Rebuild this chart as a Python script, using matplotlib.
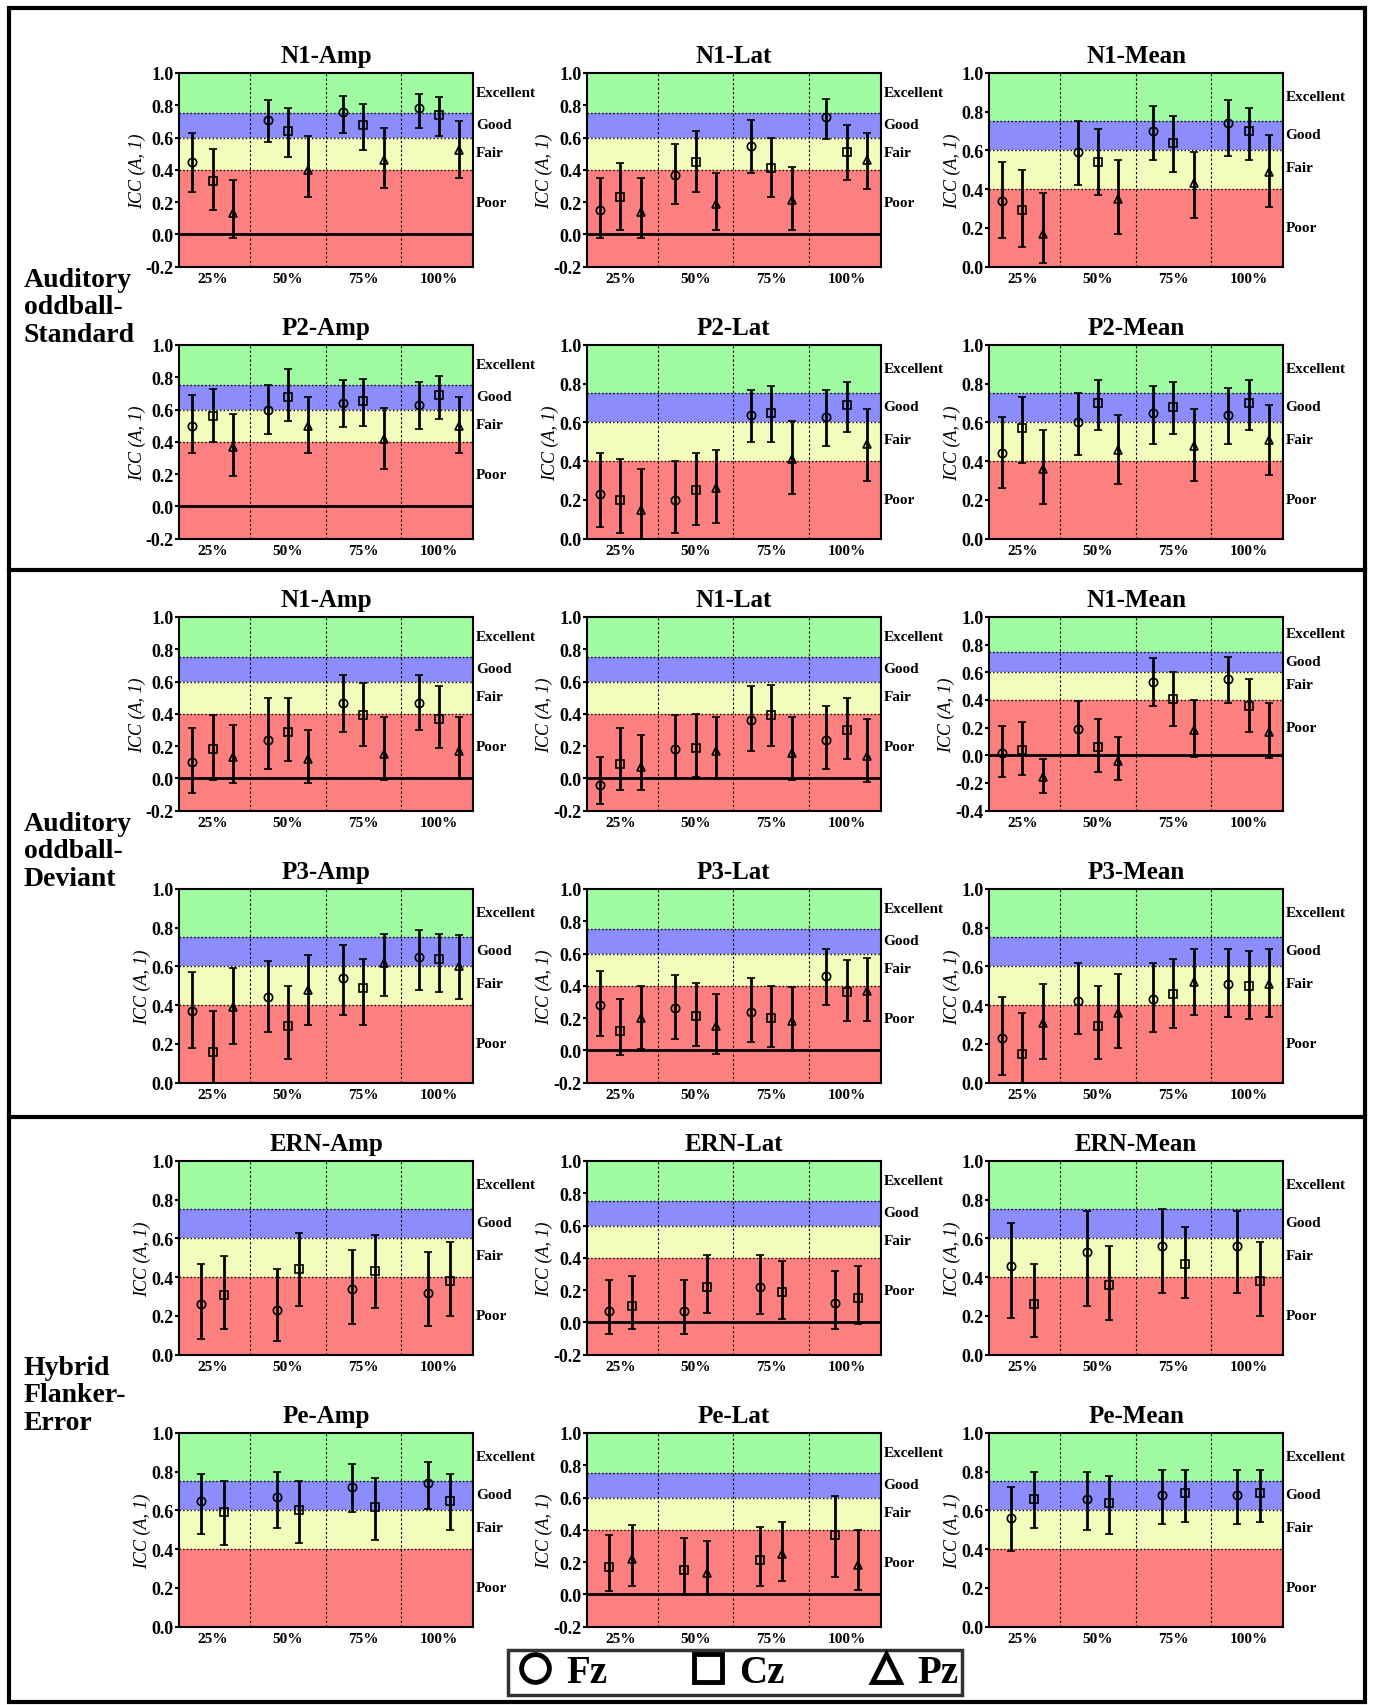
import numpy as np
import matplotlib.pyplot as plt
from matplotlib.patches import Rectangle
from matplotlib.lines import Line2D

plt.rcParams['font.family'] = ['Liberation Serif', 'DejaVu Serif']
plt.rcParams['font.weight'] = 'bold'

groups = ['25%', '50%', '75%', '100%']

# each series: list of (mean, low, high) per group
titles = [['N1-Amp', 'N1-Lat', 'N1-Mean'], ['P2-Amp', 'P2-Lat', 'P2-Mean'],
          ['N1-Amp', 'N1-Lat', 'N1-Mean'], ['P3-Amp', 'P3-Lat', 'P3-Mean'],
          ['ERN-Amp', 'ERN-Lat', 'ERN-Mean'], ['Pe-Amp', 'Pe-Lat', 'Pe-Mean']]
ymins = [[-0.2, -0.2, 0.0], [-0.2, 0.0, 0.0], [-0.2, -0.2, -0.4],
         [0.0, -0.2, 0.0], [0.0, -0.2, 0.0], [0.0, -0.2, 0.0]]
section_labels = ['Auditory\noddball-\nStandard', 'Auditory\noddball-\nDeviant',
                  'Hybrid\nFlanker-\nError']

data = {
    (0, 0): {'Fz': [(0.45, 0.26, 0.63), (0.71, 0.57, 0.83), (0.76, 0.63, 0.86), (0.78, 0.66, 0.87)],
             'Cz': [(0.33, 0.15, 0.53), (0.64, 0.48, 0.78), (0.68, 0.52, 0.81), (0.74, 0.61, 0.85)],
             'Pz': [(0.13, -0.02, 0.34), (0.40, 0.23, 0.61), (0.46, 0.29, 0.66), (0.52, 0.35, 0.70)]},
    (0, 1): {'Fz': [(0.15, -0.02, 0.35), (0.37, 0.19, 0.56), (0.55, 0.38, 0.71), (0.73, 0.59, 0.84)],
             'Cz': [(0.23, 0.03, 0.44), (0.45, 0.26, 0.64), (0.41, 0.23, 0.60), (0.51, 0.34, 0.68)],
             'Pz': [(0.14, -0.02, 0.35), (0.19, 0.03, 0.38), (0.21, 0.03, 0.42), (0.46, 0.28, 0.63)]},
    (0, 2): {'Fz': [(0.34, 0.15, 0.54), (0.59, 0.42, 0.75), (0.70, 0.55, 0.83), (0.74, 0.57, 0.86)],
             'Cz': [(0.29, 0.10, 0.50), (0.54, 0.37, 0.71), (0.64, 0.49, 0.78), (0.70, 0.55, 0.82)],
             'Pz': [(0.17, 0.02, 0.38), (0.35, 0.17, 0.55), (0.43, 0.25, 0.59), (0.49, 0.31, 0.68)]},
    (1, 0): {'Fz': [(0.50, 0.33, 0.69), (0.60, 0.45, 0.75), (0.64, 0.49, 0.78), (0.63, 0.48, 0.77)],
             'Cz': [(0.56, 0.40, 0.73), (0.68, 0.53, 0.85), (0.65, 0.50, 0.79), (0.69, 0.54, 0.81)],
             'Pz': [(0.37, 0.19, 0.57), (0.50, 0.33, 0.68), (0.42, 0.23, 0.61), (0.50, 0.33, 0.68)]},
    (1, 1): {'Fz': [(0.23, 0.06, 0.44), (0.20, 0.03, 0.40), (0.64, 0.50, 0.77), (0.63, 0.48, 0.77)],
             'Cz': [(0.20, 0.03, 0.41), (0.25, 0.07, 0.44), (0.65, 0.50, 0.79), (0.69, 0.55, 0.81)],
             'Pz': [(0.15, 0.0, 0.36), (0.26, 0.08, 0.46), (0.41, 0.23, 0.61), (0.49, 0.30, 0.67)]},
    (1, 2): {'Fz': [(0.44, 0.26, 0.63), (0.60, 0.43, 0.75), (0.65, 0.49, 0.79), (0.64, 0.49, 0.78)],
             'Cz': [(0.57, 0.39, 0.73), (0.70, 0.56, 0.82), (0.68, 0.54, 0.81), (0.70, 0.56, 0.82)],
             'Pz': [(0.36, 0.18, 0.56), (0.46, 0.28, 0.64), (0.48, 0.30, 0.67), (0.51, 0.33, 0.69)]},
    (2, 0): {'Fz': [(0.10, -0.09, 0.31), (0.24, 0.06, 0.50), (0.47, 0.29, 0.64), (0.47, 0.30, 0.64)],
             'Cz': [(0.18, -0.01, 0.39), (0.29, 0.11, 0.50), (0.39, 0.20, 0.59), (0.37, 0.19, 0.57)],
             'Pz': [(0.13, -0.03, 0.33), (0.12, -0.03, 0.30), (0.15, -0.01, 0.38), (0.17, 0.0, 0.38)]},
    (2, 1): {'Fz': [(-0.04, -0.16, 0.13), (0.18, 0.0, 0.39), (0.36, 0.17, 0.57), (0.24, 0.06, 0.45)],
             'Cz': [(0.09, -0.07, 0.31), (0.19, 0.01, 0.40), (0.39, 0.20, 0.58), (0.30, 0.12, 0.50)],
             'Pz': [(0.07, -0.07, 0.27), (0.17, 0.0, 0.38), (0.16, -0.01, 0.38), (0.14, -0.02, 0.37)]},
    (2, 2): {'Fz': [(0.02, -0.16, 0.21), (0.19, 0.0, 0.39), (0.53, 0.36, 0.70), (0.55, 0.38, 0.71)],
             'Cz': [(0.04, -0.14, 0.24), (0.06, -0.12, 0.26), (0.41, 0.21, 0.60), (0.36, 0.17, 0.55)],
             'Pz': [(-0.16, -0.27, -0.03), (-0.04, -0.18, 0.13), (0.18, -0.01, 0.40), (0.17, -0.02, 0.38)]},
    (3, 0): {'Fz': [(0.37, 0.18, 0.57), (0.44, 0.26, 0.63), (0.54, 0.35, 0.71), (0.65, 0.48, 0.79)],
             'Cz': [(0.16, 0.0, 0.37), (0.29, 0.12, 0.50), (0.49, 0.30, 0.64), (0.64, 0.47, 0.77)],
             'Pz': [(0.39, 0.20, 0.59), (0.48, 0.30, 0.66), (0.62, 0.45, 0.77), (0.60, 0.43, 0.76)]},
    (3, 1): {'Fz': [(0.28, 0.09, 0.49), (0.26, 0.07, 0.47), (0.24, 0.05, 0.45), (0.46, 0.28, 0.63)],
             'Cz': [(0.12, -0.03, 0.32), (0.21, 0.03, 0.42), (0.20, 0.02, 0.40), (0.36, 0.18, 0.56)],
             'Pz': [(0.20, 0.01, 0.40), (0.15, -0.02, 0.35), (0.18, 0.0, 0.39), (0.37, 0.18, 0.57)]},
    (3, 2): {'Fz': [(0.23, 0.04, 0.44), (0.42, 0.25, 0.62), (0.43, 0.26, 0.62), (0.51, 0.34, 0.69)],
             'Cz': [(0.15, 0.0, 0.36), (0.29, 0.12, 0.50), (0.46, 0.28, 0.64), (0.50, 0.33, 0.68)],
             'Pz': [(0.31, 0.12, 0.51), (0.36, 0.18, 0.56), (0.52, 0.35, 0.69), (0.51, 0.34, 0.69)]},
    (4, 0): {'Fz': [(0.26, 0.08, 0.47), (0.23, 0.07, 0.44), (0.34, 0.16, 0.54), (0.32, 0.15, 0.53)],
             'Cz': [(0.31, 0.13, 0.51), (0.44, 0.25, 0.63), (0.43, 0.24, 0.62), (0.38, 0.20, 0.58)]},
    (4, 1): {'Fz': [(0.07, -0.07, 0.26), (0.07, -0.07, 0.26), (0.22, 0.05, 0.42), (0.12, -0.04, 0.32)],
             'Cz': [(0.10, -0.04, 0.29), (0.22, 0.06, 0.42), (0.19, 0.02, 0.38), (0.15, -0.01, 0.35)]},
    (4, 2): {'Fz': [(0.46, 0.19, 0.68), (0.53, 0.25, 0.74), (0.56, 0.32, 0.75), (0.56, 0.32, 0.74)],
             'Cz': [(0.26, 0.09, 0.47), (0.36, 0.18, 0.56), (0.47, 0.29, 0.66), (0.38, 0.20, 0.58)]},
    (5, 0): {'Fz': [(0.65, 0.48, 0.79), (0.67, 0.51, 0.80), (0.72, 0.59, 0.84), (0.74, 0.61, 0.85)],
             'Cz': [(0.59, 0.42, 0.75), (0.60, 0.43, 0.75), (0.62, 0.45, 0.77), (0.65, 0.50, 0.79)]},
    (5, 1): {'Cz': [(0.17, 0.02, 0.37), (0.15, 0.0, 0.35), (0.21, 0.05, 0.42), (0.37, 0.11, 0.61)],
             'Pz': [(0.22, 0.05, 0.43), (0.13, 0.0, 0.33), (0.25, 0.08, 0.45), (0.18, 0.03, 0.40)]},
    (5, 2): {'Fz': [(0.56, 0.39, 0.72), (0.66, 0.50, 0.80), (0.68, 0.53, 0.81), (0.68, 0.53, 0.81)],
             'Cz': [(0.66, 0.51, 0.80), (0.64, 0.48, 0.78), (0.69, 0.54, 0.81), (0.69, 0.54, 0.81)]},
}

markers = {'Fz': 'o', 'Cz': 's', 'Pz': '^'}
bands = [(-1, 0.4, '#fc8080'), (0.4, 0.6, '#f4fcbc'), (0.6, 0.75, '#8c8cfc'), (0.75, 1.0, '#a0fca0')]
band_labels = [('Excellent', 0.88), ('Good', 0.68), ('Fair', 0.51), ('Poor', 0.2)]

W, H = 1263.0, 1568.0
fig = plt.figure(figsize=(13.73, 17.06), dpi=100)

col_x = [165, 540, 910]
col_w = 270
row_top = [68, 318, 568, 818, 1068, 1318]
row_h = 178

for r in range(6):
    for c in range(3):
        ax = fig.add_axes([col_x[c] / W, 1 - (row_top[r] + row_h) / H, col_w / W, row_h / H])
        ymin = ymins[r][c]
        ax.set_xlim(-0.44, 3.45)
        ax.set_ylim(ymin, 1.0)
        for lo, hi, col in bands:
            ax.axhspan(max(lo, ymin), hi, color=col, zorder=0, lw=0)
        for y in [0.4, 0.6, 0.75]:
            ax.axhline(y, color='k', ls=':', lw=1, zorder=1)
        for xd in [0.5, 1.5, 2.5]:
            ax.axvline(xd, color='k', ls=(0, (2, 2)), lw=0.8, zorder=1)
        if ymin < 0:
            ax.axhline(0, color='k', lw=2, zorder=2)
        series = data[(r, c)]
        names = list(series.keys())
        if len(names) == 3:
            offs = [-0.27, 0.0, 0.27]
        else:
            offs = [-0.15, 0.15]
        for name, off in zip(names, offs):
            vals = np.array(series[name])
            x = np.arange(4) + off
            ax.errorbar(x, vals[:, 0], yerr=[vals[:, 0] - vals[:, 1], vals[:, 2] - vals[:, 0]],
                        fmt=markers[name], color='k', mfc='none', mec='k', ms=6, mew=1.2,
                        elinewidth=2, capsize=3, capthick=2, zorder=3)
        ax.set_xticks(range(4))
        ax.set_xticklabels(groups, fontsize=11, fontweight='bold')
        ax.tick_params(axis='x', length=0)
        yt = np.round(np.arange(ymin, 1.01, 0.2), 1)
        ax.set_yticks(yt)
        ax.set_yticklabels(['%.1f' % v for v in yt], fontsize=13, fontweight='bold')
        ax.tick_params(axis='y', length=3, width=1.5, pad=1)
        for s in ax.spines.values():
            s.set_linewidth(1.5)
        ax.set_title(titles[r][c], fontsize=18, fontweight='bold', pad=8)
        ax.set_ylabel('ICC (A, 1)', fontsize=13, fontstyle='italic', fontweight='normal', labelpad=0)
        for lab, y in band_labels:
            ax.text(1.01, y, lab, transform=ax.get_yaxis_transform(),
                    fontsize=11, fontweight='bold', va='center', ha='left')

# section boxes
box = fig.add_axes([0, 0, 1, 1], facecolor='none')
box.set_xlim(0, W)
box.set_ylim(H, 0)
box.axis('off')
box.add_patch(Rectangle((8, 8), 1248, 1557, fill=False, lw=3, color='k'))
for y in [525, 1028]:
    box.plot([8, 1256], [y, y], color='k', lw=3)
for lab, y in zip(section_labels, [283, 783, 1283]):
    box.text(22, y, lab, fontsize=20, fontweight='bold', va='center', ha='left', linespacing=1.15)

# legend
leg_handles = [Line2D([], [], marker=markers[n], ls='none', mfc='none', mec='k', mew=3.5, ms=20)
               for n in ['Fz', 'Cz', 'Pz']]
leg = fig.legend(leg_handles, ['Fz', 'Cz', 'Pz'], loc='center', ncol=3,
                 bbox_to_anchor=(676 / W, 1 - 1538 / H), prop={'size': 28, 'weight': 'bold'},
                 frameon=True, edgecolor='k', fancybox=False, handletextpad=0.2, columnspacing=2.0,
                 handlelength=1.2, borderpad=0.1)
leg.get_frame().set_linewidth(2.5)

fig.savefig('out.png', dpi=100)
